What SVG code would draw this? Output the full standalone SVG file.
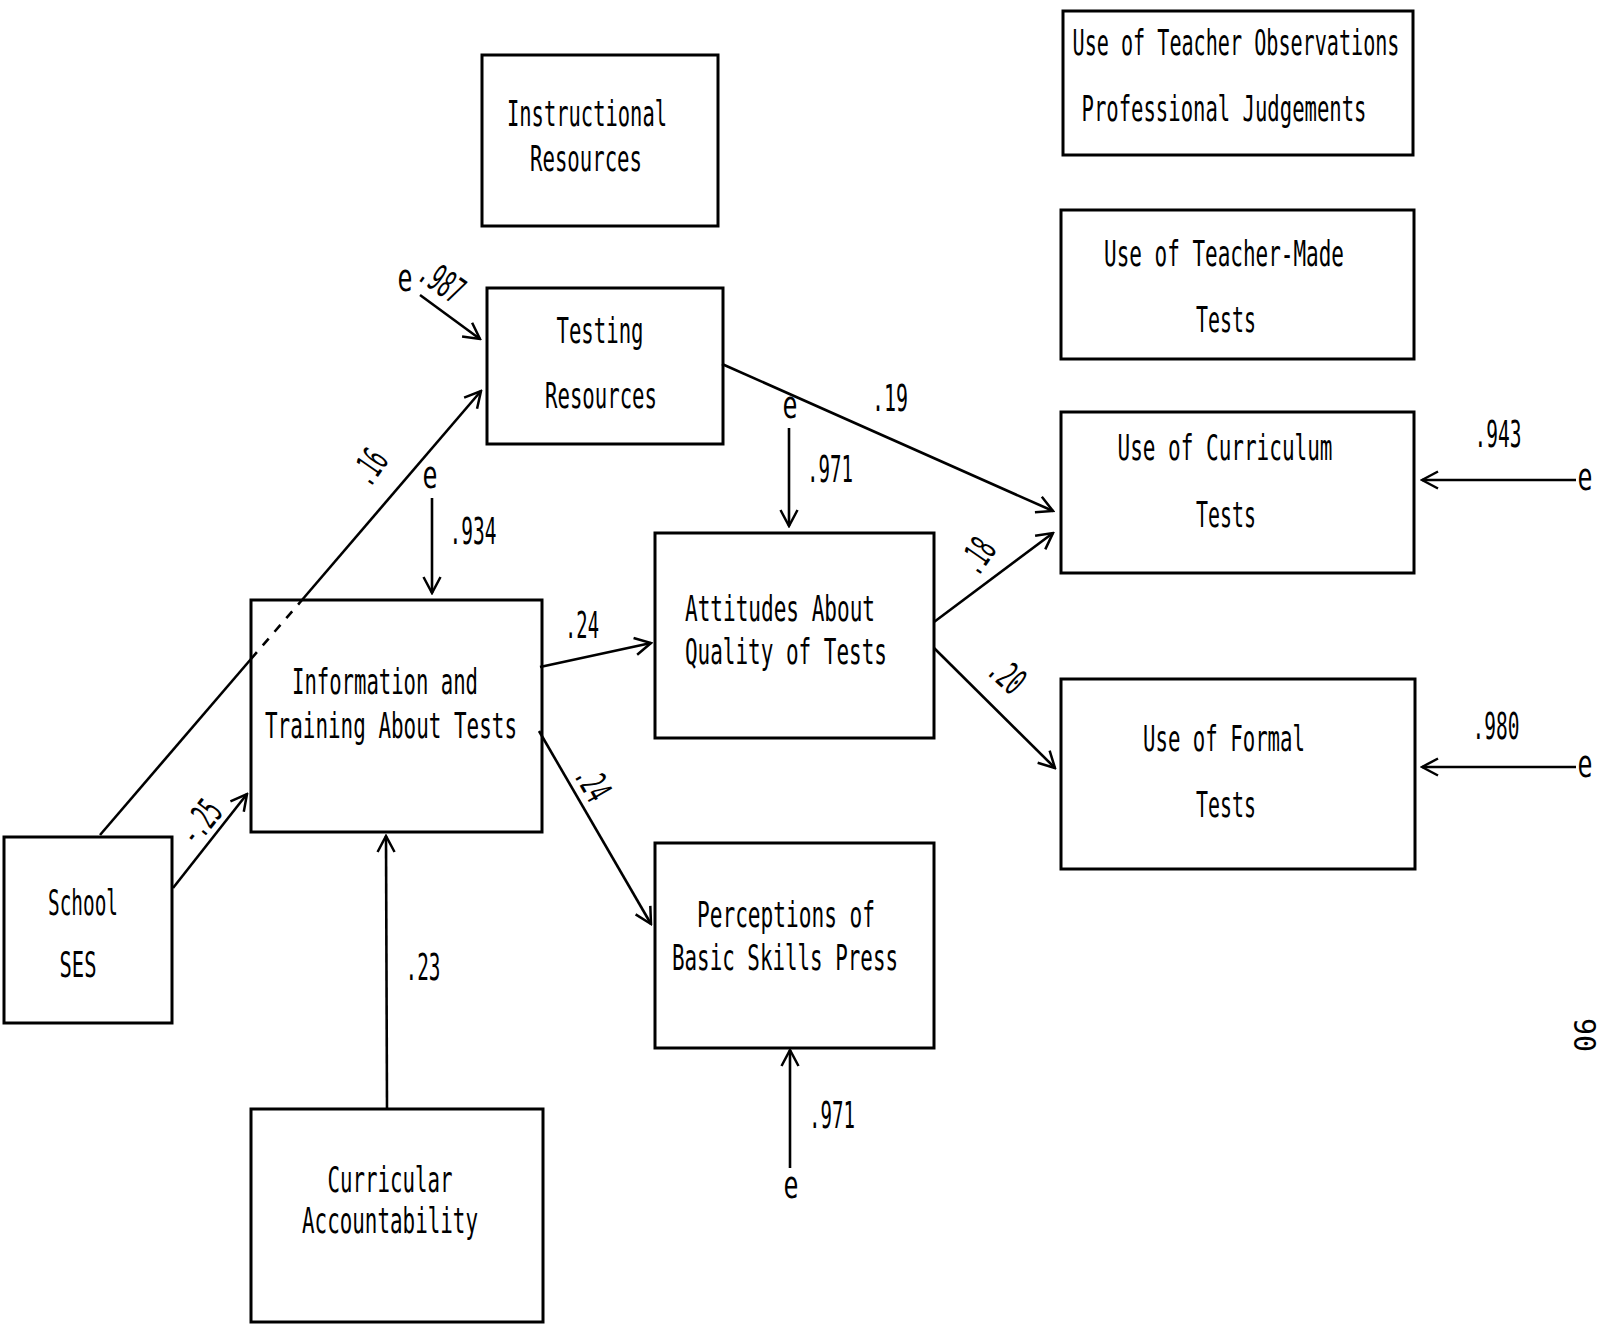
<svg xmlns="http://www.w3.org/2000/svg" width="1599" height="1325" viewBox="0 0 1599 1325">
<style>
.box{fill:none;stroke:#000;stroke-width:3}
.t{font-family:"DejaVu Sans Mono","Liberation Mono",monospace;font-size:35px;fill:#000;text-anchor:middle}
.n{font-family:"DejaVu Sans Mono","Liberation Mono",monospace;font-size:37px;fill:#000;text-anchor:middle}
.c{fill:none;stroke:#000;stroke-width:2.6}
.d{fill:none;stroke:#000;stroke-width:2.6;stroke-dasharray:9 9}
</style>
<defs>
<marker id="a" viewBox="0 0 20 20" refX="18" refY="10" markerWidth="20" markerHeight="20" markerUnits="userSpaceOnUse" orient="auto">
<path d="M2,1.5 L18,10 L2,18.5" fill="none" stroke="#000" stroke-width="2.5"/>
</marker>
</defs>
<rect width="1599" height="1325" fill="#fff"/>

<g id="instructional-resources">
<rect class="box" x="482" y="55" width="236" height="171"/>
<text class="t" x="587" y="126" textLength="160" lengthAdjust="spacingAndGlyphs">Instructional</text>
<text class="t" x="586" y="171" textLength="112" lengthAdjust="spacingAndGlyphs">Resources</text>
</g>
<g id="testing-resources">
<rect class="box" x="487" y="288" width="236" height="156"/>
<text class="t" x="600" y="343" textLength="87" lengthAdjust="spacingAndGlyphs">Testing</text>
<text class="t" x="601" y="408" textLength="112" lengthAdjust="spacingAndGlyphs">Resources</text>
</g>
<g id="teacher-observations">
<rect class="box" x="1063" y="11" width="350" height="144"/>
<text class="t" transform="translate(1236,55) scale(0.575,1)" x="0" y="0">Use of Teacher Observations</text>
<text class="t" x="1224" y="121" textLength="285" lengthAdjust="spacingAndGlyphs">Professional Judgements</text>
</g>
<g id="teacher-made-tests">
<rect class="box" x="1061" y="210" width="353" height="149"/>
<text class="t" x="1224" y="266" textLength="240" lengthAdjust="spacingAndGlyphs">Use of Teacher-Made</text>
<text class="t" x="1226" y="332" textLength="60" lengthAdjust="spacingAndGlyphs">Tests</text>
</g>
<g id="curriculum-tests">
<rect class="box" x="1061" y="412" width="353" height="161"/>
<text class="t" x="1225" y="460" textLength="215" lengthAdjust="spacingAndGlyphs">Use of Curriculum</text>
<text class="t" x="1226" y="527" textLength="60" lengthAdjust="spacingAndGlyphs">Tests</text>
</g>
<g id="formal-tests">
<rect class="box" x="1061" y="679" width="354" height="190"/>
<text class="t" x="1224" y="751" textLength="162" lengthAdjust="spacingAndGlyphs">Use of Formal</text>
<text class="t" x="1226" y="817" textLength="60" lengthAdjust="spacingAndGlyphs">Tests</text>
</g>
<g id="attitudes">
<rect class="box" x="655" y="533" width="279" height="205"/>
<text class="t" x="780" y="621" textLength="190" lengthAdjust="spacingAndGlyphs">Attitudes About</text>
<text class="t" x="786" y="664" textLength="202" lengthAdjust="spacingAndGlyphs">Quality of Tests</text>
</g>
<g id="information-training">
<rect class="box" x="251" y="600" width="291" height="232"/>
<text class="t" x="385" y="694" textLength="186" lengthAdjust="spacingAndGlyphs">Information and</text>
<text class="t" x="391" y="738" textLength="252" lengthAdjust="spacingAndGlyphs">Training About Tests</text>
</g>
<g id="school-ses">
<rect class="box" x="4" y="837" width="168" height="186"/>
<text class="t" x="83" y="915" textLength="70" lengthAdjust="spacingAndGlyphs">School</text>
<text class="t" x="78" y="977" textLength="37" lengthAdjust="spacingAndGlyphs">SES</text>
</g>
<g id="perceptions">
<rect class="box" x="655" y="843" width="279" height="205"/>
<text class="t" x="786" y="927" textLength="178" lengthAdjust="spacingAndGlyphs">Perceptions of</text>
<text class="t" x="785" y="970" textLength="226" lengthAdjust="spacingAndGlyphs">Basic Skills Press</text>
</g>
<g id="curricular-accountability">
<rect class="box" x="251" y="1109" width="292" height="213"/>
<text class="t" x="390" y="1192" textLength="125" lengthAdjust="spacingAndGlyphs">Curricular</text>
<text class="t" x="390" y="1233" textLength="176" lengthAdjust="spacingAndGlyphs">Accountability</text>
</g>

<g id="connectors">
<path class="c" d="M420,295 L480,339" marker-end="url(#a)"/>
<path class="c" d="M100,835 L251,659"/>
<path class="d" d="M251,659 L302,600"/>
<path class="c" d="M302,600 L481,391" marker-end="url(#a)"/>
<path class="c" d="M173,888 L247,794" marker-end="url(#a)"/>
<path class="c" d="M432,498 L432,593" marker-end="url(#a)"/>
<path class="c" d="M540,667 L651,643" marker-end="url(#a)"/>
<path class="c" d="M539,731 L651,924" marker-end="url(#a)"/>
<path class="c" d="M387,1109 L386,836" marker-end="url(#a)"/>
<path class="c" d="M722,364 L1053,511" marker-end="url(#a)"/>
<path class="c" d="M789,428 L789,526" marker-end="url(#a)"/>
<path class="c" d="M934,622 L1053,533" marker-end="url(#a)"/>
<path class="c" d="M934,648 L1055,768" marker-end="url(#a)"/>
<path class="c" d="M1576,480 L1422,480" marker-end="url(#a)"/>
<path class="c" d="M1576,767 L1422,767" marker-end="url(#a)"/>
<path class="c" d="M790,1168 L790,1050" marker-end="url(#a)"/>
</g>

<g id="labels">
<text class="n" x="405" y="291" textLength="15" lengthAdjust="spacingAndGlyphs">e</text>
<text class="n" transform="translate(442,281) rotate(35)" x="0" y="13" textLength="46" lengthAdjust="spacingAndGlyphs">.987</text>
<text class="n" transform="translate(369,467) rotate(-55)" x="0" y="13" textLength="34" lengthAdjust="spacingAndGlyphs">.16</text>
<text class="n" x="430" y="488" textLength="15" lengthAdjust="spacingAndGlyphs">e</text>
<text class="n" x="473" y="544" textLength="47" lengthAdjust="spacingAndGlyphs">.934</text>
<text class="n" transform="translate(200,822) rotate(-52)" x="0" y="13" textLength="45" lengthAdjust="spacingAndGlyphs">-.25</text>
<text class="n" x="582" y="638" textLength="34" lengthAdjust="spacingAndGlyphs">.24</text>
<text class="n" transform="translate(593,783) rotate(60)" x="0" y="13" textLength="34" lengthAdjust="spacingAndGlyphs">.24</text>
<text class="n" x="423" y="980" textLength="35" lengthAdjust="spacingAndGlyphs">.23</text>
<text class="n" x="890" y="411" textLength="36" lengthAdjust="spacingAndGlyphs">.19</text>
<text class="n" x="790" y="418" textLength="15" lengthAdjust="spacingAndGlyphs">e</text>
<text class="n" x="830" y="482" textLength="46" lengthAdjust="spacingAndGlyphs">.971</text>
<text class="n" transform="translate(977,556) rotate(-55)" x="0" y="13" textLength="34" lengthAdjust="spacingAndGlyphs">.18</text>
<text class="n" transform="translate(1007,675) rotate(42)" x="0" y="13" textLength="35" lengthAdjust="spacingAndGlyphs">.20</text>
<text class="n" x="1498" y="447" textLength="47" lengthAdjust="spacingAndGlyphs">.943</text>
<text class="n" x="1585" y="490" textLength="15" lengthAdjust="spacingAndGlyphs">e</text>
<text class="n" x="1496" y="739" textLength="47" lengthAdjust="spacingAndGlyphs">.980</text>
<text class="n" x="1585" y="777" textLength="15" lengthAdjust="spacingAndGlyphs">e</text>
<text class="n" x="832" y="1128" textLength="46" lengthAdjust="spacingAndGlyphs">.971</text>
<text class="n" x="791" y="1198" textLength="15" lengthAdjust="spacingAndGlyphs">e</text>
<text class="n" transform="translate(1574,1035) rotate(90)" x="0" y="0" style="font-size:30px" textLength="34" lengthAdjust="spacingAndGlyphs">90</text>
</g>
</svg>
